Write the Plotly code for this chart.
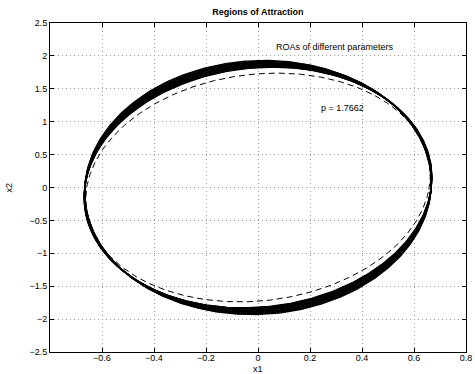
import numpy as np
import plotly.graph_objects as go

# Ellipse family: semi-axes a (x), b (y), rotation phi (rad)
sol_a = [0.666] * 12
sol_b = [1.93, 1.92, 1.91, 1.90, 1.89, 1.88, 1.87, 1.86, 1.85, 1.84, 1.835, 1.83]
sol_phi = [-0.014, -0.016, -0.018, -0.020, -0.022, -0.024, -0.026, -0.028, -0.030, -0.032, -0.034, -0.036]
dash_a, dash_b, dash_phi = 0.658, 1.74, -0.048

x_ticks = [-0.6, -0.4, -0.2, 0, 0.2, 0.4, 0.6, 0.8]
y_ticks = [-2.5, -2, -1.5, -1, -0.5, 0, 0.5, 1, 1.5, 2, 2.5]

t = np.linspace(0, 2 * np.pi, 500)


def ellipse(a, b, phi):
    x0, y0 = a * np.cos(t), b * np.sin(t)
    return x0 * np.cos(phi) - y0 * np.sin(phi), x0 * np.sin(phi) + y0 * np.cos(phi)


fig = go.Figure()
for a, b, phi in zip(sol_a, sol_b, sol_phi):
    ex, ey = ellipse(a, b, phi)
    fig.add_trace(go.Scatter(x=ex, y=ey, mode="lines", line=dict(color="black", width=1.4),
                             showlegend=False, hoverinfo="skip"))
ex, ey = ellipse(dash_a, dash_b, dash_phi)
fig.add_trace(go.Scatter(x=ex, y=ey, mode="lines",
                         line=dict(color="black", width=1, dash="6px,4px"),
                         showlegend=False, hoverinfo="skip"))

font = dict(family="Liberation Sans, Arial, sans-serif", size=9, color="black")
fig.add_annotation(x=0.293, y=2.14, text="ROAs of different parameters", showarrow=False, font=font)
fig.add_annotation(x=0.324, y=1.21, text="p = 1.7662", showarrow=False, font=font)
fig.add_annotation(xref="paper", yref="paper", x=0.5, y=0, yanchor="top", yshift=-11,
                   text="x1", showarrow=False, font=font, borderpad=0)
fig.add_annotation(xref="paper", yref="paper", x=0, y=0.5, xanchor="center", xshift=-42,
                   text="x2", textangle=-90, showarrow=False, font=font)

axis_common = dict(showline=True, linecolor="black", linewidth=1, mirror="ticks",
                   ticks="inside", ticklen=4, tickcolor="black",
                   showgrid=True, gridcolor="#999", griddash="1px,3px", gridwidth=1,
                   zeroline=False, tickfont=font, automargin=False)
fig.update_xaxes(range=[-0.8, 0.8], tickvals=x_ticks, ticklabelstandoff=-3,
                 ticktext=[("%g" % v).replace("-", "\u2212") for v in x_ticks], **axis_common)
fig.update_yaxes(range=[-2.5, 2.5], tickvals=y_ticks,
                 ticktext=[("%g" % v).replace("-", "\u2212") for v in y_ticks], **axis_common)
fig.update_layout(width=475, height=374, margin=dict(l=50, r=9, t=23, b=22),
                  paper_bgcolor="white", plot_bgcolor="white",
                  title=dict(text="<b>Regions of Attraction</b>", x=0.543, xanchor="center",
                             y=0.968, yanchor="middle", yref="container",
                             font=dict(family="Liberation Sans, Arial, sans-serif", size=9, color="black")))
fig.write_html("out.html")
